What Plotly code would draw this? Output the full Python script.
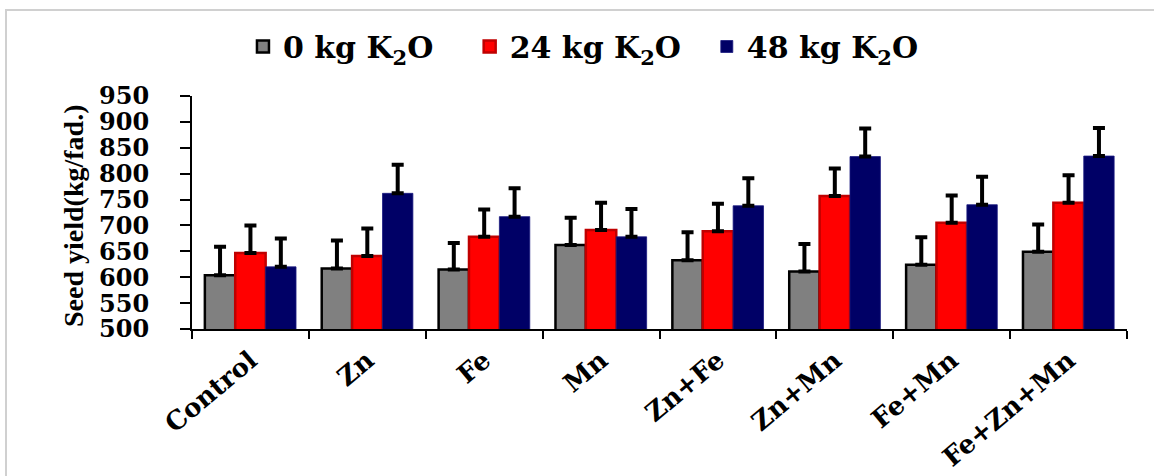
import plotly.graph_objects as go

categories = ["Control", "Zn", "Fe", "Mn", "Zn+Fe", "Zn+Mn", "Fe+Mn", "Fe+Zn+Mn"]
series_names = ["0 kg K<sub>2</sub>O", "24 kg K<sub>2</sub>O", "48 kg K<sub>2</sub>O"]
k0_values = [604, 617, 615, 662, 633, 611, 624, 649]
k24_values = [647, 641, 678, 691, 689, 757, 705, 744]
k48_values = [620, 762, 717, 678, 738, 833, 740, 834]
k0_err = [55, 54, 51, 53, 54, 53, 53, 53]
k24_err = [53, 53, 53, 53, 53, 53, 53, 53]
k48_err = [55, 55, 55, 54, 53, 54, 54, 54]
y_ticks = [500, 550, 600, 650, 700, 750, 800, 850, 900, 950]
y_title = "Seed yield(kg/fad.)"

W, H = 1154, 476
ML, MR, MT, MB = 192, 27, 96, 147

fills = ["#808080", "#FF0000", "#000066"]
edges = ["#000000", "#C00000", "#1a1a80"]
edge_w = [2.5, 2.5, 0.8]
pads = ["&nbsp;&nbsp;&nbsp;", "&nbsp;&nbsp;", ""]

fig = go.Figure()
for name, pad, vals, errs, fc, ec, ew in zip(series_names, pads,
                                             [k0_values, k24_values, k48_values],
                                             [k0_err, k24_err, k48_err],
                                             fills, edges, edge_w):
    fig.add_trace(go.Bar(
        x=categories, y=vals, name=name + pad,
        marker=dict(color=fc, line=dict(color=ec, width=ew)),
        error_y=dict(type="data", array=errs, arrayminus=[0] * len(errs),
                     symmetric=False, color="#000000", thickness=4, width=6),
    ))

fig.update_layout(
    width=W, height=H,
    margin=dict(l=ML, r=MR, t=MT, b=MB, pad=0),
    paper_bgcolor="#FFFFFF", plot_bgcolor="#FFFFFF",
    barmode="group", bargap=0.22, bargroupgap=0,
    showlegend=True,
    legend=dict(orientation="h", x=0.0545, xanchor="left", y=1.324, yanchor="top",
                font=dict(family="DejaVu Serif", size=30, color="#000000", weight="bold"),
                bgcolor="rgba(0,0,0,0)", traceorder="normal"),
    xaxis=dict(type="category", automargin=False, showgrid=False, showline=True,
               linecolor="#000000", linewidth=2, ticks="outside", tickson="boundaries",
               ticklen=8, tickwidth=2, tickcolor="#000000", tickangle=-40,
               ticklabelstandoff=4,
               tickfont=dict(family="DejaVu Serif", size=26, color="#000000", weight="bold")),
    yaxis=dict(range=[500, 950], tickvals=y_ticks, automargin=False, showgrid=False,
               zeroline=False, showline=True, linecolor="#000000", linewidth=2,
               ticks="outside", ticklen=10, tickwidth=2, tickcolor="#000000",
               ticklabelstandoff=26,
               tickfont=dict(family="DejaVu Serif", size=24, color="#000000", weight="bold")),
)

pw = W - ML - MR
ph = H - MT - MB

fig.add_annotation(text=y_title, textangle=-90, showarrow=False,
                   xref="paper", yref="paper", x=(73.5 - ML) / pw, y=0.483,
                   xanchor="center", yanchor="middle",
                   font=dict(family="Liberation Serif", size=28, color="#000000",
                             weight="bold"))

# light gray outer frame of the chart area
fig.add_shape(type="rect", xref="paper", yref="paper",
              x0=(6 - ML) / pw, x1=(W + 2 - ML) / pw,
              y0=(MT + ph - (H + 5)) / ph, y1=(MT + ph - 10) / ph,
              line=dict(color="#D0D0D0", width=2), fillcolor="rgba(0,0,0,0)",
              layer="below")

fig.write_html("out.html", config={"displayModeBar": False},
               post_script="document.body.style.margin='0';document.body.style.overflow='hidden';")
